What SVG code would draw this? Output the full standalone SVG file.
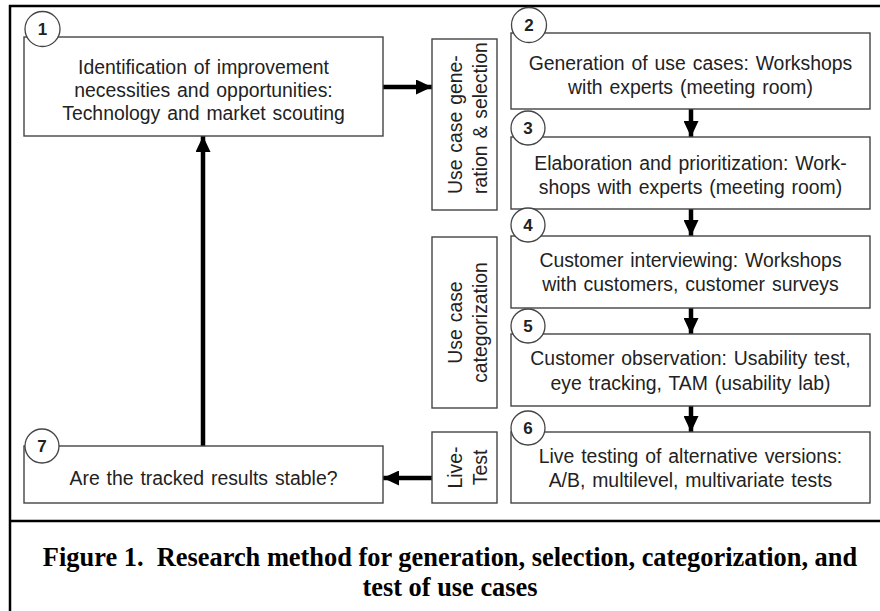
<svg xmlns="http://www.w3.org/2000/svg" width="880" height="611" viewBox="0 0 880 611">
<style>
.box{fill:#fff;stroke:#444;stroke-width:1.4}
.circ{fill:#fff;stroke:#444;stroke-width:1.3}
.t{font-family:"Liberation Sans",Arial,sans-serif;font-size:19.4px;fill:#222;text-anchor:middle;word-spacing:1.5px}
.n{font-family:"Liberation Sans",Arial,sans-serif;font-size:17px;font-weight:bold;fill:#222;text-anchor:middle}
.cap{font-family:"Liberation Serif","Times New Roman",serif;font-size:26.4px;font-weight:bold;fill:#000;text-anchor:middle}
.arr{stroke:#000;stroke-width:4.5;fill:none;marker-end:url(#ah)}
.frame{stroke:#000;stroke-width:2.5;fill:none}
</style>
<defs>
<marker id="ah" markerUnits="userSpaceOnUse" markerWidth="16" markerHeight="15" refX="16" refY="7.5" orient="auto">
<path d="M0,0 L16,7.5 L0,15 Z" fill="#000"/>
</marker>
</defs>
<rect width="880" height="611" fill="#fff"/>
<g id="frame">
<path class="frame" d="M10,611 V6 H880"/>
<path class="frame" d="M10,521 H880"/>
</g>
<g id="connectors">
<path class="arr" d="M383,87 H432"/>
<path class="arr" d="M691,109 V137"/>
<path class="arr" d="M691,209 V236"/>
<path class="arr" d="M691,308 V334"/>
<path class="arr" d="M691,406 V432"/>
<path class="arr" d="M432,478 H383"/>
<path class="arr" d="M203,446 V136"/>
</g>
<g id="node1">
<rect class="box" x="24" y="37" width="359" height="99"/>
<circle class="circ" cx="42.5" cy="29" r="17.5"/>
<text class="n" x="42.5" y="35">1</text>
<text class="t" x="203.5" y="74">Identification of improvement</text>
<text class="t" x="203.5" y="97">necessities and opportunities:</text>
<text class="t" x="203.5" y="120">Technology and market scouting</text>
</g>
<g id="label-generation">
<rect class="box" x="432" y="39" width="65" height="171"/>
<text class="t" style="text-anchor:start" transform="translate(462,194) rotate(-90)">Use case gene-</text>
<text class="t" style="text-anchor:start" transform="translate(487,194) rotate(-90)">ration &amp; selection</text>
</g>
<g id="node2">
<rect class="box" x="511" y="33" width="359" height="76"/>
<circle class="circ" cx="529" cy="25" r="17.5"/>
<text class="n" x="529" y="31">2</text>
<text class="t" x="690.5" y="70">Generation of use cases: Workshops</text>
<text class="t" x="690.5" y="94">with experts (meeting room)</text>
</g>
<g id="node3">
<rect class="box" x="511" y="137" width="359" height="72"/>
<circle class="circ" cx="528" cy="128" r="17"/>
<text class="n" x="528" y="134">3</text>
<text class="t" x="690.5" y="170">Elaboration and prioritization: Work-</text>
<text class="t" x="690.5" y="194">shops with experts (meeting room)</text>
</g>
<g id="label-categorization">
<rect class="box" x="432" y="237" width="65" height="171"/>
<text class="t" transform="translate(462,322.5) rotate(-90)">Use case</text>
<text class="t" transform="translate(487,322.5) rotate(-90)">categorization</text>
</g>
<g id="node4">
<rect class="box" x="511" y="236" width="359" height="72"/>
<circle class="circ" cx="528" cy="225" r="17"/>
<text class="n" x="528" y="231">4</text>
<text class="t" x="690.5" y="267">Customer interviewing: Workshops</text>
<text class="t" x="690.5" y="291">with customers, customer surveys</text>
</g>
<g id="node5">
<rect class="box" x="511" y="334" width="359" height="72"/>
<circle class="circ" cx="528" cy="326" r="17"/>
<text class="n" x="528" y="332">5</text>
<text class="t" x="690.5" y="365">Customer observation: Usability test,</text>
<text class="t" x="690.5" y="390">eye tracking, TAM (usability lab)</text>
</g>
<g id="label-livetest">
<rect class="box" x="432" y="432" width="65" height="71"/>
<text class="t" transform="translate(462,467.5) rotate(-90)">Live-</text>
<text class="t" transform="translate(487,467.5) rotate(-90)">Test</text>
</g>
<g id="node6">
<rect class="box" x="511" y="432" width="359" height="71"/>
<circle class="circ" cx="528" cy="428" r="17"/>
<text class="n" x="528" y="434">6</text>
<text class="t" x="690.5" y="463">Live testing of alternative versions:</text>
<text class="t" x="690.5" y="487">A/B, multilevel, multivariate tests</text>
</g>
<g id="node7">
<rect class="box" x="24" y="446" width="359" height="57"/>
<circle class="circ" cx="42" cy="446" r="17"/>
<text class="n" x="42" y="452">7</text>
<text class="t" x="203.5" y="485">Are the tracked results stable?</text>
</g>
<g id="caption">
<text class="cap" x="450" y="566" xml:space="preserve">Figure 1.  Research method for generation, selection, categorization, and</text>
<text class="cap" x="450" y="596">test of use cases</text>
</g>
</svg>
